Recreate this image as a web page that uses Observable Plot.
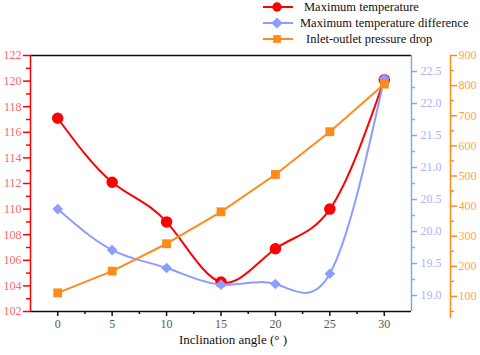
<!DOCTYPE html>
<html><head><meta charset="utf-8">
<script src="https://cdn.jsdelivr.net/npm/d3@7"></script>
<script src="https://cdn.jsdelivr.net/npm/@observablehq/plot@0.6"></script>
<style>
body{margin:0;background:#fff;font-family:"Liberation Serif",serif}
#legend{height:48px;width:480px}
#chart svg, #chart svg text, #chart svg g{font-family:"Liberation Serif",serif !important}
</style>
</head><body>
<div id="legend"></div>
<div id="chart"></div>
<script>
// ---- data ----
const angles = [0, 5, 10, 15, 20, 25, 30];
const maxTemp = [117.1, 112.1, 109.0, 104.3, 106.9, 110.0, 120.1];
const maxTempDiff = [20.35, 19.71, 19.43, 19.17, 19.18, 19.34, 22.39];
const pressureDrop = [112, 184, 275, 381, 505, 647, 805];
const seriesNames = ["Maximum temperature", "Maximum temperature difference", "Inlet-outlet pressure drop"];
const tempTicks = [102, 104, 106, 108, 110, 112, 114, 116, 118, 120, 122];
const tempMinor = [103, 105, 107, 109, 111, 113, 115, 117, 119, 121];
const diffTicks = [19.0, 19.5, 20.0, 20.5, 21.0, 21.5, 22.0, 22.5];
const diffMinor = [19.25, 19.75, 20.25, 20.75, 21.25, 21.75, 22.25];
const pressureTicks = [100, 200, 300, 400, 500, 600, 700, 800, 900];
const pressureMinor = [50, 150, 250, 350, 450, 550, 650, 750, 850];
const xTicks = [0, 5, 10, 15, 20, 25, 30];
const xMinor = [2.5, 7.5, 12.5, 17.5, 22.5, 27.5];
const xTitle = "Inclination angle (° )";

// ---- styling ----
const FONT = "Liberation Serif";
const RED = "#ff0000", BLUE = "#8c9cff", ORANGE = "#ff8c1a";
const RED_TXT = "#f26b6b", BLUE_TXT = "#a9b3f6", ORANGE_TXT = "#ffa54a";
const tDomain = [102, 122];
const dDomain = [18.75, 22.75];
const pDomain = [50, 900];
const dToT = d3.scaleLinear(dDomain, tDomain);
const pToT = d3.scaleLinear(pDomain, tDomain);

const redData = angles.map((a, i) => ({x: a, y: maxTemp[i]}));
const blueData = angles.map((a, i) => ({x: a, y: dToT(maxTempDiff[i])}));
const orangeData = angles.map((a, i) => ({x: a, y: pToT(pressureDrop[i])}));

const chart = Plot.plot({
  width: 480, height: 307,
  marginLeft: 30, marginRight: 69, marginTop: 7, marginBottom: 44,
  style: {fontFamily: FONT, fontSize: "12px", background: "white"},
  x: {domain: [-2.5, 32.5], label: null},
  y: {domain: tDomain, label: null},
  marks: [
    // frame lines
    Plot.ruleY([102, 122], {stroke: "#111", strokeWidth: 1.5}),
    Plot.ruleX([-2.5], {stroke: RED, strokeWidth: 1.5}),
    Plot.ruleX([32.5], {stroke: BLUE, strokeWidth: 1.5}),
    Plot.ruleX([32.5], {y1: 101.45, y2: 122, dx: 39, stroke: ORANGE, strokeWidth: 1.5}),
    // left axis
    Plot.axisY(tempTicks, {anchor: "left", tickSize: 7, tickPadding: 2, stroke: RED, strokeWidth: 1.5, fill: RED_TXT, fontFamily: FONT, fontSize: 12, label: null}),
    Plot.axisY(tempMinor, {anchor: "left", tickSize: 4, stroke: RED, strokeWidth: 1.5, fill: "none", label: null}),
    // blue axis
    Plot.axisY(diffTicks.map(dToT), {anchor: "right", tickSize: 5, tickPadding: 4, stroke: BLUE, strokeWidth: 1.5, fill: BLUE_TXT, fontFamily: FONT, fontSize: 12, tickFormat: v => d3.format(".1f")(dToT.invert(v)), label: null}),
    Plot.axisY(diffMinor.map(dToT), {anchor: "right", tickSize: 3, stroke: BLUE, strokeWidth: 1.5, fill: "none", label: null}),
    // orange axis
    Plot.axisY(pressureTicks.map(pToT), {anchor: "right", dx: 39, tickSize: 6, tickPadding: 2, stroke: ORANGE, strokeWidth: 1.5, fill: ORANGE_TXT, fontFamily: FONT, fontSize: 12, tickFormat: v => d3.format("d")(Math.round(pToT.invert(v))), label: null}),
    Plot.axisY(pressureMinor.map(pToT), {anchor: "right", dx: 39, tickSize: 3, stroke: ORANGE, strokeWidth: 1.5, fill: "none", label: null}),
    // x axis
    Plot.axisX(xTicks, {tickSize: 5, tickPadding: 3, stroke: "#111", strokeWidth: 1.5, fill: "#555", fontFamily: FONT, fontSize: 12, label: null}),
    Plot.axisX(xMinor, {tickSize: 3, stroke: "#111", strokeWidth: 1.5, fill: "none", label: null}),
    Plot.text([xTitle], {frameAnchor: "bottom", dy: 32, dx: 12, fontSize: 13, fontFamily: FONT, fill: "#111"}),
    // series
    Plot.line(redData, {x: "x", y: "y", curve: "natural", stroke: RED, strokeWidth: 2}),
    Plot.dot(redData, {x: "x", y: "y", r: 5, fill: RED, stroke: RED, symbol: "circle"}),
    Plot.line(blueData, {x: "x", y: "y", curve: "natural", stroke: BLUE, strokeWidth: 2}),
    Plot.dot(blueData, {x: "x", y: "y", r: 4.8, fill: BLUE, symbol: "diamond2"}),
    Plot.line(orangeData, {x: "x", y: "y", stroke: ORANGE, strokeWidth: 2}),
    Plot.dot(orangeData, {x: "x", y: "y", r: 5, fill: ORANGE, symbol: "square"})
  ]
});
document.getElementById("chart").appendChild(chart);

// ---- legend ----
const legendItems = [
  {name: seriesNames[0], color: RED, sym: d3.symbolCircle, size: 70, y: 7, tx: 304},
  {name: seriesNames[1], color: BLUE, sym: d3.symbolDiamond2, size: 80, y: 23, tx: 300},
  {name: seriesNames[2], color: ORANGE, sym: d3.symbolSquare, size: 60, y: 39, tx: 306}
];
const lsvg = d3.select("#legend").append("svg").attr("width", 480).attr("height", 48)
  .style("font-family", FONT);
const g = lsvg.selectAll("g").data(legendItems).join("g");
g.append("line").attr("x1", 263).attr("x2", 293).attr("y1", d => d.y).attr("y2", d => d.y)
  .attr("stroke", d => d.color).attr("stroke-width", 2);
g.append("path").attr("d", d => d3.symbol(d.sym, d.size)()).attr("transform", d => `translate(277,${d.y})`)
  .attr("fill", d => d.color);
g.append("text").attr("x", d => d.tx).attr("y", d => d.y).attr("dy", "0.35em")
  .attr("font-size", 12.5).attr("fill", "#111").text(d => d.name);
</script>
</body></html>
